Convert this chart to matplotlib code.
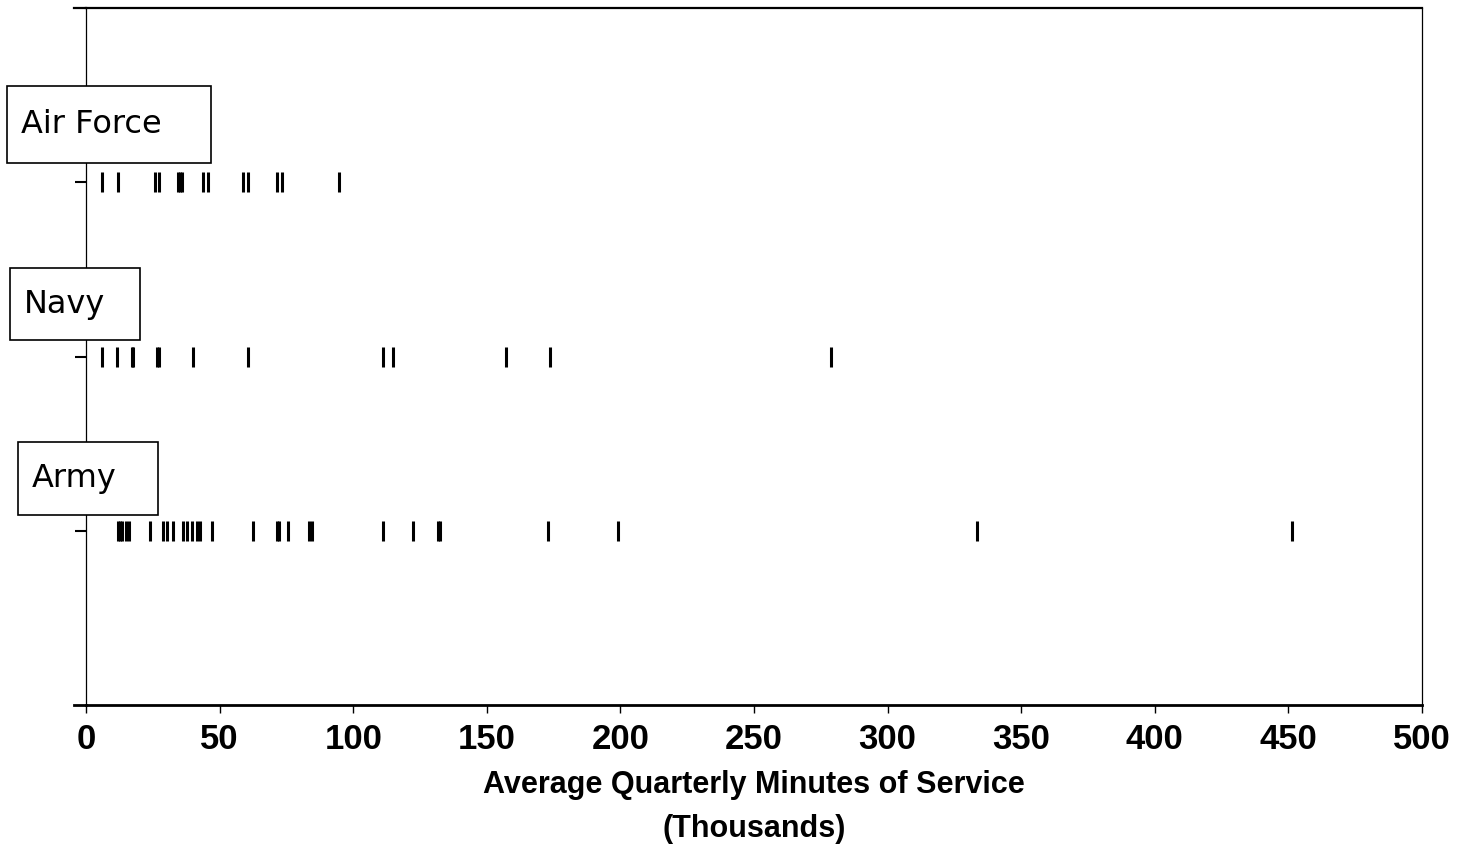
import numpy as np
import matplotlib.pyplot as plt
from matplotlib.patches import Rectangle

# values in thousands of minutes
air_force = [6.1, 12.1, 25.8, 27.3, 34.5, 35.3, 36.1, 43.9, 45.6, 58.9, 60.5, 71.6, 73.2, 94.8]
navy = [5.9, 11.5, 17.1, 17.7, 26.6, 27.2, 40.2, 60.7, 111.3, 115.0, 157.2, 173.7, 278.8]
army = [12.0, 12.7, 13.5, 14.9, 16.2, 24.0, 28.9, 30.2, 32.7, 36.4, 37.7, 39.6, 41.5, 42.7,
        47.0, 62.6, 71.4, 72.4, 75.7, 83.5, 84.5, 111.0, 122.5, 131.6, 132.4, 173.0, 199.2,
        333.3, 451.2]

groups = ['Army', 'Navy', 'Air Force']
series = [army, navy, air_force]
xticks = np.arange(0, 501, 50)

fig = plt.figure(figsize=(14.7, 8.52), dpi=100)
ax = fig.add_axes([86/1470, 1-705/852, 1336/1470, 697/852])

for i, vals in enumerate(series):
    ax.plot(vals, [i+1]*len(vals), ls='none', marker='|', ms=14, mew=2.2, color='black')

ax.set_xlim(0, 500)
ax.set_ylim(0, 4)
ax.set_xticks(xticks)
ax.set_xticklabels([str(t) for t in xticks], fontfamily='Liberation Sans',
                   fontweight='bold', fontsize=25)
ax.set_yticks([1, 2, 3])
ax.set_yticklabels([])
ax.tick_params(axis='x', length=6, width=1, pad=7)
ax.tick_params(axis='y', length=8, width=1.5)

for s in ['top', 'right', 'left']:
    ax.spines[s].set_linewidth(0.9)
ax.spines['bottom'].set_linewidth(2)
ax.spines['top'].set_linewidth(1.6)

# horizontal frame lines poke out a bit past the left spine
ax.plot([-0.009, 0], [0, 0], transform=ax.transAxes, color='black', lw=2, clip_on=False)
ax.plot([-0.009, 0], [1, 1], transform=ax.transAxes, color='black', lw=1.6, clip_on=False)

ax.set_xlabel('Average Quarterly Minutes of Service\n(Thousands)',
              fontfamily='Liberation Sans', fontweight='bold', fontsize=22,
              labelpad=10, linespacing=1.6)

# group label boxes (pixel boxes: x0, y_top, width, height)
boxes = {'Air Force': (7, 86, 204, 77), 'Navy': (10, 268, 130, 72), 'Army': (18, 442, 140, 73)}
for name in groups:
    x0, yt, w, h = boxes[name]
    rect = Rectangle((x0/1470, 1-(yt+h)/852), w/1470, h/852, transform=fig.transFigure,
                     facecolor='white', edgecolor='black', lw=1.2, zorder=5)
    fig.patches.append(rect)
    fig.text((x0+14)/1470, 1-(yt+h/2)/852, name, ha='left', va='center',
             fontsize=23, fontfamily='DejaVu Sans', zorder=6)

fig.savefig('out.png', dpi=100, facecolor='white')
